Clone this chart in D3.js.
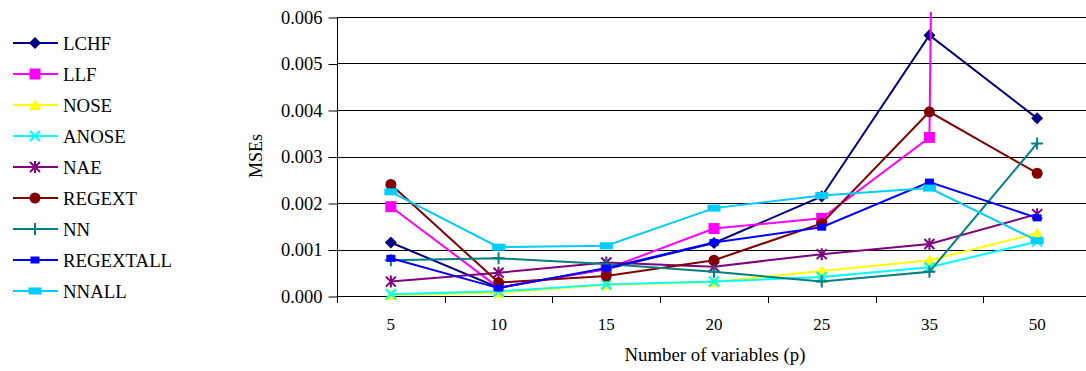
<!DOCTYPE html>
<html>
<head>
<meta charset="utf-8">
<script src="https://cdn.jsdelivr.net/npm/d3@7/dist/d3.min.js"></script>
<style>
  html, body { margin: 0; padding: 0; background: #fff; }
  svg { display: block; }
  svg text { font-family: "Liberation Serif", Tinos, "Times New Roman", Times, "DejaVu Serif", serif !important; fill: #000; }
</style>
</head>
<body>
<svg id="chart" width="1086" height="371"></svg>
<script>
// Number of variables on the x axis
const categories = ["5", "10", "15", "20", "25", "35", "50"];

// Mean squared errors of each method
const LCHF      = [0.00115, 0.00018, 0.00058, 0.00114, 0.00214, 0.00561, 0.00382];
const LLF       = [0.00192, 0.00018, 0.00058, 0.00145, 0.00167, 0.00341, 0.2];
const NOSE      = [0.00002, 0.00007, 0.00024, 0.00030, 0.00054, 0.00077, 0.00135];
const ANOSE     = [0.00004, 0.00010, 0.00025, 0.00031, 0.00041, 0.00062, 0.00117];
const NAE       = [0.00031, 0.00050, 0.00072, 0.00063, 0.00090, 0.00112, 0.00176];
const REGEXT    = [0.00240, 0.00029, 0.00043, 0.00077, 0.00156, 0.00396, 0.00264];
const NN        = [0.00077, 0.00081, 0.00069, 0.00052, 0.00031, 0.00052, 0.00328];
const REGEXTALL = [0.00081, 0.00017, 0.00060, 0.00115, 0.00148, 0.00245, 0.00168];
const NNALL     = [0.00224, 0.00105, 0.00108, 0.00189, 0.00216, 0.00232, 0.00119];

const yTicks = [0, 0.001, 0.002, 0.003, 0.004, 0.005, 0.006];
const xTitle = "Number of variables (p)";
const yTitle = "MSEs";

const series = [
  { name: "LCHF",      values: LCHF,      color: "#000080", marker: "diamond" },
  { name: "LLF",       values: LLF,       color: "#FF00FF", marker: "square" },
  { name: "NOSE",      values: NOSE,      color: "#FFFF00", marker: "triangle" },
  { name: "ANOSE",     values: ANOSE,     color: "#00FFFF", marker: "x" },
  { name: "NAE",       values: NAE,       color: "#800080", marker: "star" },
  { name: "REGEXT",    values: REGEXT,    color: "#800000", marker: "circle" },
  { name: "NN",        values: NN,        color: "#008080", marker: "plus" },
  { name: "REGEXTALL", values: REGEXTALL, color: "#0000FF", marker: "smallrect" },
  { name: "NNALL",     values: NNALL,     color: "#00CCFF", marker: "widerect" }
];

const FONT = '"Liberation Serif", Tinos, "Times New Roman", Times, "DejaVu Serif", serif';
const svg = d3.select("#chart");
const plot = { left: 337, right: 1091, top: 17, bottom: 296 };

const x = d3.scaleBand().domain(categories).range([plot.left, plot.right]).padding(0);
const y = d3.scaleLinear().domain([0, 0.006]).range([plot.bottom, plot.top]);
const cx = d => x(d) + x.bandwidth() / 2;

// Horizontal gridlines
svg.append("g")
  .selectAll("line")
  .data(yTicks.filter(d => d > 0))
  .join("line")
  .attr("x1", plot.left).attr("x2", plot.right)
  .attr("y1", d => Math.round(y(d)) + 0.5).attr("y2", d => Math.round(y(d)) + 0.5)
  .attr("stroke", "#000").attr("stroke-width", 1);

// Y axis
const yAxis = svg.append("g")
  .attr("transform", `translate(${plot.left + 0.5},0.5)`)
  .call(d3.axisLeft(y).tickValues(yTicks).tickFormat(d3.format(".3f")).tickSize(9).tickPadding(6));
yAxis.attr("font-family", FONT).attr("font-size", 18.5);
yAxis.select(".domain").attr("stroke", "#000").attr("d", `M0,${y(0.006)}V${y(0)}`);
yAxis.selectAll(".tick line").attr("stroke", "#000");
yAxis.selectAll(".tick text").attr("fill", "#000");

// X axis: line, tick marks between categories, labels at centres
const xg = svg.append("g").attr("font-family", FONT);
xg.append("line")
  .attr("x1", plot.left).attr("x2", plot.right)
  .attr("y1", plot.bottom + 0.5).attr("y2", plot.bottom + 0.5)
  .attr("stroke", "#000");
xg.selectAll("line.tick")
  .data(categories.concat(["end"]))
  .join("line")
  .attr("class", "tick")
  .attr("x1", (d, i) => Math.round(plot.left + i * x.step()) + 0.5)
  .attr("x2", (d, i) => Math.round(plot.left + i * x.step()) + 0.5)
  .attr("y1", plot.bottom).attr("y2", plot.bottom + 7)
  .attr("stroke", "#000");
xg.selectAll("text")
  .data(categories)
  .join("text")
  .attr("x", d => cx(d)).attr("y", 330)
  .attr("text-anchor", "middle")
  .attr("font-size", 17)
  .text(d => d);

// Axis titles
svg.append("text")
  .attr("x", 715).attr("y", 361)
  .attr("text-anchor", "middle")
  .attr("font-size", 18.8)
  .text(xTitle);
svg.append("text")
  .attr("transform", `translate(262,156) rotate(-90)`)
  .attr("text-anchor", "middle")
  .attr("font-size", 18)
  .text(yTitle);

// Clip for series lines
svg.append("defs").append("clipPath").attr("id", "plotclip")
  .append("rect")
  .attr("x", plot.left).attr("y", 12)
  .attr("width", plot.right - plot.left).attr("height", plot.bottom - 12 + 4);

// Marker drawing
function drawMarker(g, type, color) {
  switch (type) {
    case "diamond":
      g.append("path").attr("d", "M0,-6L6,0L0,6L-6,0Z").attr("fill", color);
      break;
    case "square":
      g.append("rect").attr("x", -5.5).attr("y", -5.5).attr("width", 11).attr("height", 11).attr("fill", color);
      break;
    case "triangle":
      g.append("path").attr("d", "M0,-6L6,5L-6,5Z").attr("fill", color);
      break;
    case "x":
      g.append("path").attr("d", "M-5,-5L5,5M5,-5L-5,5").attr("stroke", color).attr("stroke-width", 2.2).attr("fill", "none");
      break;
    case "star":
      g.append("path").attr("d", "M-5,-5L5,5M5,-5L-5,5M0,-6V6").attr("stroke", color).attr("stroke-width", 2).attr("fill", "none");
      break;
    case "circle":
      g.append("circle").attr("r", 5.5).attr("fill", color);
      break;
    case "plus":
      g.append("path").attr("d", "M-6,0H6M0,-6V6").attr("stroke", color).attr("stroke-width", 2).attr("fill", "none");
      break;
    case "smallrect":
      g.append("rect").attr("x", -4.5).attr("y", -3.5).attr("width", 9).attr("height", 7).attr("fill", color);
      break;
    case "widerect":
      g.append("rect").attr("x", -6.5).attr("y", -3.5).attr("width", 13).attr("height", 7).attr("fill", color);
      break;
  }
}

const line = d3.line()
  .x((d, i) => cx(categories[i]))
  .y(d => y(d));

series.forEach(s => {
  const g = svg.append("g");
  g.append("path")
    .datum(s.values)
    .attr("clip-path", "url(#plotclip)")
    .attr("d", line)
    .attr("fill", "none")
    .attr("stroke", s.color)
    .attr("stroke-width", 2);
  s.values.forEach((v, i) => {
    if (v > 0.006) return;
    const m = g.append("g").attr("transform", `translate(${cx(categories[i])},${y(v)})`);
    drawMarker(m, s.marker, s.color);
  });
});

// Legend
const legend = svg.append("g").attr("font-family", FONT);
series.forEach((s, i) => {
  const ly = 43 + i * 31;
  const item = legend.append("g").attr("transform", `translate(0,${ly})`);
  item.append("line").attr("x1", 13).attr("x2", 58).attr("y1", 0).attr("y2", 0)
    .attr("stroke", s.color).attr("stroke-width", 2);
  drawMarker(item.append("g").attr("transform", "translate(35,0)"), s.marker, s.color);
  item.append("text").attr("x", 63).attr("y", 6.5).attr("font-size", 18.8).text(s.name);
});
</script>
</body>
</html>
